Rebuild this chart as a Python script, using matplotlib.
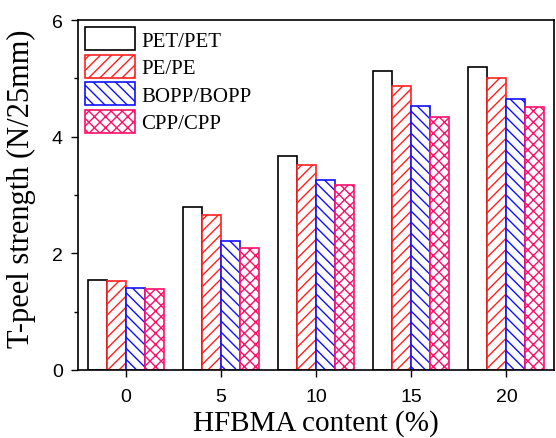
import matplotlib
matplotlib.use("Agg")
import matplotlib.pyplot as plt
import numpy as np

contents = [0, 5, 10, 15, 20]
series = ["PET/PET", "PE/PE", "BOPP/BOPP", "CPP/CPP"]
pet = [1.54, 2.80, 3.67, 5.12, 5.19]
pe = [1.52, 2.66, 3.52, 4.87, 5.00]
bopp = [1.40, 2.22, 3.25, 4.53, 4.64]
cpp = [1.39, 2.09, 3.17, 4.33, 4.51]

values = [pet, pe, bopp, cpp]
colors = ["black", "#FF2020", "#1010FF", "#FF0F6A"]
hatches = ["", "///", "\\\\\\", "xxx"]

plt.rcParams["hatch.linewidth"] = 1.0

fig = plt.figure(figsize=(5.56, 4.39), dpi=100)
ax = fig.add_axes([78/556, (439-371)/439, (554-78)/556, (371-21)/439])

x = np.array(contents, dtype=float)
width = 1.0
offsets = [-1.5, -0.5, 0.5, 1.5]
for vals, c, h, off, name in zip(values, colors, hatches, offsets, series):
    ax.bar(x + off, vals, width=width, facecolor="white", edgecolor=c,
           hatch=h, linewidth=1.2, label=name)

ax.set_xlim(-2.5, 22.5)
ax.set_ylim(0, 6)
ax.set_xticks(contents)
ax.set_yticks([0, 2, 4, 6])
ax.set_yticks([1, 3, 5], minor=True)
ax.tick_params(axis="both", which="major", direction="out", length=5, width=1,
               labelsize=14)
ax.tick_params(axis="x", which="major", pad=8)
ax.tick_params(axis="y", which="major", pad=6)
ax.tick_params(axis="y", which="minor", direction="out", length=3, width=1)
for lab in ax.get_xticklabels() + ax.get_yticklabels():
    lab.set_fontfamily("Liberation Sans")
for s in ax.spines.values():
    s.set_linewidth(1.2)

ax.set_xlabel("HFBMA content (%)", fontfamily="Liberation Serif", fontsize=21, labelpad=3)
ax.set_ylabel("T-peel strength (N/25mm)", fontfamily="Liberation Serif", fontsize=22)
ax.yaxis.set_label_coords(-0.088, 0.52)

leg = ax.legend(loc="upper left", frameon=False, prop={"family": "Liberation Serif", "size": 15},
                handlelength=2.4, handleheight=1.3, labelspacing=0.2, handletextpad=0.3,
                borderaxespad=0.2, borderpad=0.15)

fig.savefig("out.png", dpi=100)
